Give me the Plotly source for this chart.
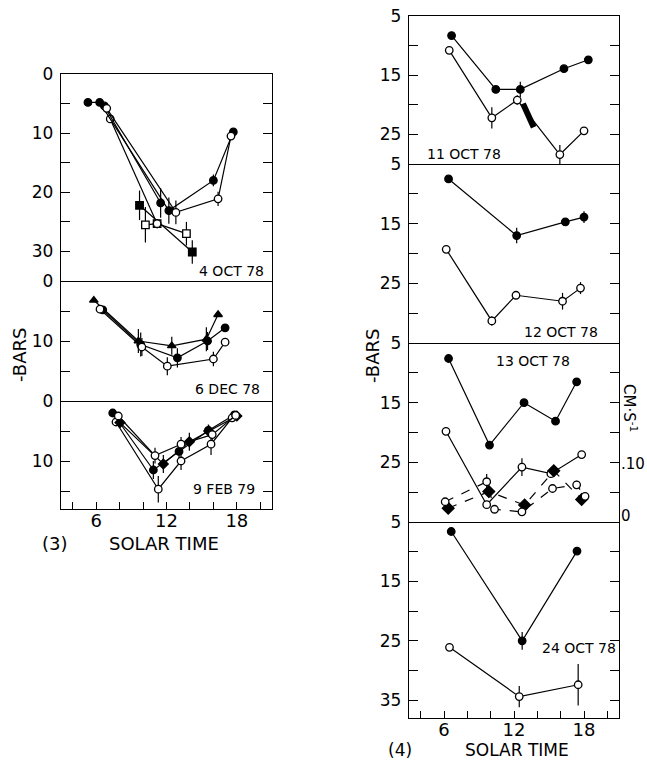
import plotly.graph_objects as go

W, H = 647, 763
FONT = "DejaVu Sans"

# ---------------- DATA ----------------
# Panel (3) 4 OCT 78
oct4_a_t = [5.3, 6.3, 12.2, 16.0, 17.7]
oct4_a_v = [4.8, 4.8, 23.1, 18.0, 9.8]
oct4_a_e = [0, 0, 2.2, 1.0, 0.6]
oct4_b_t = [6.9, 12.8, 16.4, 17.5]
oct4_b_v = [5.8, 23.4, 21.1, 10.5]
oct4_b_e = [0, 2.0, 1.2, 0.6]
oct4_c_t = [6.7, 11.5]
oct4_c_v = [5.4, 21.8]
oct4_c_e = [0, 2.5]
oct4_d_t = [7.2, 11.2]
oct4_d_v = [7.6, 25.3]
oct4_d_e = [0, 0.8]
oct4_sq_f_t = [9.7, 14.2]
oct4_sq_f_v = [22.2, 30.1]
oct4_sq_f_e = [2.5, 2.0]
oct4_sq_o_t = [10.2, 11.2, 13.7]
oct4_sq_o_v = [25.5, 25.3, 27.0]
oct4_sq_o_e = [3.0, 0.8, 2.0]

# Panel (3) 6 DEC 78
dec6_tri_t = [5.8, 9.6, 12.45, 15.4, 16.4]
dec6_tri_v = [3.2, 10.0, 10.8, 9.7, 5.6]
dec6_tri_e = [0, 2.0, 1.5, 2.0, 0]
dec6_f_t = [6.56, 9.8, 12.93, 15.5, 17.0]
dec6_f_v = [4.8, 10.6, 12.8, 10.0, 7.8]
dec6_f_e = [0, 2.0, 1.6, 1.5, 0]
dec6_o_t = [6.33, 9.9, 12.07, 16.0, 17.0]
dec6_o_v = [4.7, 11.0, 14.2, 13.0, 10.2]
dec6_o_e = [0, 1.5, 1.5, 1.2, 0.5]

# Panel (3) 9 FEB 79
feb9_a_t = [7.41, 10.88, 13.07, 15.57, 17.8]
feb9_a_v = [2.0, 11.5, 8.4, 4.9, 2.3]
feb9_a_e = [0, 1.5, 1.5, 1.0, 0]
feb9_b_t = [7.89, 11.02, 13.24, 15.9, 17.9]
feb9_b_v = [2.5, 9.1, 7.2, 5.6, 2.4]
feb9_b_e = [0, 1.3, 1.2, 1.0, 0]
feb9_c_t = [7.69, 11.3, 13.24, 15.8, 17.6]
feb9_c_v = [3.5, 14.7, 10.0, 7.2, 2.8]
feb9_c_e = [0, 2.2, 1.5, 1.8, 0]
feb9_d_t = [8.03, 11.73, 13.95, 15.6, 18.0]
feb9_d_v = [3.6, 10.5, 6.8, 5.0, 2.5]
feb9_d_e = [0, 1.5, 1.5, 1.0, 0]

# Panel (4) 11 OCT 78
oct11_f_t = [6.65, 10.44, 12.54, 16.28, 18.37]
oct11_f_v = [8.3, 17.4, 17.4, 13.9, 12.4]
oct11_f_e = [0, 0, 1.3, 0, 0]
oct11_o_t = [6.45, 10.1, 12.28, 15.93, 18.0]
oct11_o_v = [10.8, 22.2, 19.2, 28.4, 24.4]
oct11_o_e = [0, 1.8, 0.8, 1.6, 0]
oct11_blob_t = [12.77, 13.69]
oct11_blob_v = [19.8, 23.8]

# Panel (4) 12 OCT 78
oct12_f_t = [6.39, 12.23, 16.4, 18.0]
oct12_f_v = [7.5, 17.0, 14.7, 13.9]
oct12_f_e = [0, 1.3, 0, 1.0]
oct12_o_t = [6.19, 10.1, 12.17, 16.16, 17.7]
oct12_o_v = [19.3, 31.3, 27.0, 28.0, 25.8]
oct12_o_e = [0, 0.8, 0, 1.4, 1.0]

# Panel (4) 13 OCT 78  (-bars, solid) and cm/s (dashed)
oct13_f_t = [6.39, 9.9, 12.86, 15.56, 17.37]
oct13_f_v = [7.6, 22.1, 15.0, 18.1, 11.5]
oct13_o_t = [6.17, 9.66, 12.68, 15.16, 17.8]
oct13_o_v = [19.8, 32.1, 25.8, 26.9, 23.7]
oct13_o_e = [0, 0, 1.5, 0, 0]
oct13_vf_t = [6.36, 9.84, 12.91, 15.41, 17.8]
oct13_vf_v = [0.015, 0.047, 0.021, 0.087, 0.032]
oct13_vf_e = [0.006, 0.012, 0.008, 0.008, 0.005]
oct13_vo_t = [6.1, 9.66, 10.33, 12.68, 15.3, 17.37, 18.09]
oct13_vo_v = [0.0275, 0.066, 0.013, 0.008, 0.053, 0.060, 0.038]
oct13_vo_e = [0.006, 0.015, 0, 0, 0, 0.008, 0]

# Panel (4) 24 OCT 78
oct24_f_t = [6.62, 12.7, 17.4]
oct24_f_v = [6.6, 25.0, 9.9]
oct24_f_e = [0, 1.5, 0]
oct24_o_t = [6.47, 12.45, 17.5]
oct24_o_v = [26.1, 34.4, 32.4]
oct24_o_e = [0.6, 1.8, 3.5]

x_major = [6, 12, 18]
x_major_labels = ["6", "12", "18"]
x_minor = [4, 8, 10, 14, 16, 20]

# --------------- helpers ---------------
def PX(x):
    return x / W

def PY(y):
    return 1 - y / H

fig = go.Figure()

def add(t, v, ax, sym="circle", filled=True, err=None, dash="solid", size=7.5, lw=1.2):
    xa, ya = ax
    fig.add_trace(go.Scatter(
        x=t, y=v, xaxis=xa, yaxis=ya, mode="lines+markers",
        line=dict(color="black", width=lw, dash=dash),
        marker=dict(symbol=sym, size=size, color="black" if filled else "white",
                    line=dict(color="black", width=1.3)),
        error_y=dict(type="data", array=err, visible=True,
                     color="black", thickness=1.2, width=0) if err is not None else None,
        hoverinfo="skip", showlegend=False))

L1, L2, L3 = ("x", "y"), ("x2", "y2"), ("x3", "y3")
R1, R2, R3, R4 = ("x4", "y4"), ("x5", "y5"), ("x6", "y6"), ("x7", "y7")

# 4 OCT
add(oct4_sq_f_t, oct4_sq_f_v, L1, "square", True, oct4_sq_f_e)
add(oct4_sq_o_t, oct4_sq_o_v, L1, "square", False, oct4_sq_o_e)
add(oct4_d_t, oct4_d_v, L1, "circle", False, oct4_d_e)
add(oct4_c_t, oct4_c_v, L1, "circle", True, oct4_c_e)
add(oct4_a_t, oct4_a_v, L1, "circle", True, oct4_a_e)
add(oct4_b_t, oct4_b_v, L1, "circle", False, oct4_b_e)
# 6 DEC
add(dec6_tri_t, dec6_tri_v, L2, "triangle-up", True, dec6_tri_e)
add(dec6_f_t, dec6_f_v, L2, "circle", True, dec6_f_e)
add(dec6_o_t, dec6_o_v, L2, "circle", False, dec6_o_e)
# 9 FEB
add(feb9_a_t, feb9_a_v, L3, "circle", True, feb9_a_e)
add(feb9_c_t, feb9_c_v, L3, "circle", False, feb9_c_e)
add(feb9_d_t, feb9_d_v, L3, "diamond", True, feb9_d_e)
add(feb9_b_t, feb9_b_v, L3, "circle", False, feb9_b_e)
# 11 OCT
add(oct11_f_t, oct11_f_v, R1, "circle", True, oct11_f_e)
add(oct11_o_t, oct11_o_v, R1, "circle", False, oct11_o_e)
fig.add_trace(go.Scatter(x=oct11_blob_t, y=oct11_blob_v, xaxis="x4", yaxis="y4",
                         mode="lines", line=dict(color="black", width=6),
                         hoverinfo="skip", showlegend=False))
# 12 OCT
add(oct12_f_t, oct12_f_v, R2, "circle", True, oct12_f_e)
add(oct12_o_t, oct12_o_v, R2, "circle", False, oct12_o_e)
# 13 OCT
add(oct13_f_t, oct13_f_v, R3, "circle", True)
add(oct13_o_t, oct13_o_v, R3, "circle", False, oct13_o_e)
add(oct13_vf_t, oct13_vf_v, ("x6", "y8"), "diamond", True, oct13_vf_e, dash="dash", size=9)
add(oct13_vo_t, oct13_vo_v, ("x6", "y8"), "circle", False, oct13_vo_e, dash="dash")
# 24 OCT
add(oct24_f_t, oct24_f_v, R4, "circle", True, oct24_f_e)
add(oct24_o_t, oct24_o_v, R4, "circle", False, oct24_o_e)

# --------------- axes ---------------
LX = [PX(61), PX(272)]
RX = [PX(409), PX(619)]
# domain x, domain y, range, major ticks, minor ticks, bottom?, top?
panels = {
    1: (LX, [PY(281), PY(74)], [35, 0], [0, 10, 20, 30], [5, 15, 25], False, True),
    2: (LX, [PY(401), PY(281)], [20, 0], [0, 10], [5, 15], False, False),
    3: (LX, [PY(509), PY(401)], [18, 0], [0, 10], [5, 15], True, False),
    4: (RX, [PY(164), PY(16)], [30, 5], [5, 15, 25], [10, 20], False, True),
    5: (RX, [PY(343), PY(164)], [35, 5], [5, 15, 25], [10, 20, 30], False, False),
    6: (RX, [PY(522), PY(343)], [35, 5], [5, 15, 25], [10, 20, 30], False, False),
    7: (RX, [PY(718), PY(522)], [38, 5], [5, 15, 25, 35], [10, 20, 30], True, False),
}
layout = {}
tickfont = dict(family=FONT, size=17, color="black")
for i, (xd, yd, yr, tv, mv, bottom, top) in panels.items():
    sfx = "" if i == 1 else str(i)
    xa = dict(
        domain=xd, range=[3, 21], anchor="y" + sfx, showgrid=False, zeroline=False,
        showline=True, linecolor="black", linewidth=1.3, mirror=top,
        automargin=False, fixedrange=True)
    if bottom:
        xa.update(tickmode="array", tickvals=x_major, ticktext=x_major_labels,
                  ticks="inside", ticklen=7, tickwidth=1.2, tickcolor="black",
                  showticklabels=True, tickfont=dict(family=FONT, size=18, color="black"),
                  ticklabelstandoff=-5,
                  minor=dict(tickmode="array", tickvals=x_minor, ticks="inside",
                             ticklen=7, tickwidth=1.2, tickcolor="black"))
    else:
        xa.update(ticks="", showticklabels=False)
    layout["xaxis" + sfx] = xa
    layout["yaxis" + sfx] = dict(
        domain=yd, range=yr, anchor="x" + sfx, showgrid=False, zeroline=False,
        showline=True, linecolor="black", linewidth=1.3, mirror="ticks",
        tickmode="array", tickvals=tv, ticks="inside", ticklen=9,
        tickwidth=1.2, tickcolor="black", tickfont=tickfont, ticklabelstandoff=3,
        minor=dict(tickmode="array", tickvals=mv, ticks="inside", ticklen=9,
                   tickwidth=1.2, tickcolor="black"),
        automargin=False, fixedrange=True)
layout["yaxis8"] = dict(
    domain=panels[6][1], range=[-0.0115, 0.333], anchor="x6", overlaying="y6",
    side="right", showgrid=False, zeroline=False, showline=False,
    tickmode="array", tickvals=[0, 0.1], ticktext=["0", ".10"], ticks="",
    tickfont=dict(family=FONT, size=15, color="black"), ticklabelstandoff=1,
    automargin=False, fixedrange=True)

ann = []
def text(s, x, y, size=14, angle=0):
    ann.append(dict(text=s, x=PX(x), y=PY(y), xref="paper", yref="paper",
                    showarrow=False, textangle=angle, xanchor="center", yanchor="middle",
                    font=dict(family=FONT, size=size, color="black")))

text("4 OCT 78", 231, 271)
text("6 DEC 78", 227, 389)
text("9 FEB 79", 224, 489)
text("11 OCT 78", 464, 154)
text("12 OCT 78", 561, 332)
text("13 OCT 78", 533, 361)
text("24 OCT 78", 579, 648)
text("-BARS", 19, 355, 18, -90)
text("-BARS", 372, 356, 18, -90)
text("CM·S<sup>-1</sup>", 630, 408, 15, 90)
text("(3)", 55, 543, 18)
text("SOLAR TIME", 164, 543, 18)
text("(4)", 400, 750, 17)
text("SOLAR TIME", 517, 750, 17)

fig.update_layout(**layout)
fig.update_layout(width=W, height=H, margin=dict(l=0, r=0, t=0, b=0, autoexpand=False),
                  paper_bgcolor="white", plot_bgcolor="white",
                  showlegend=False, annotations=ann)

fig.write_html("out.html", config={"displayModeBar": False},
               post_script="document.body.style.margin='0px';document.body.style.overflow='hidden';")
